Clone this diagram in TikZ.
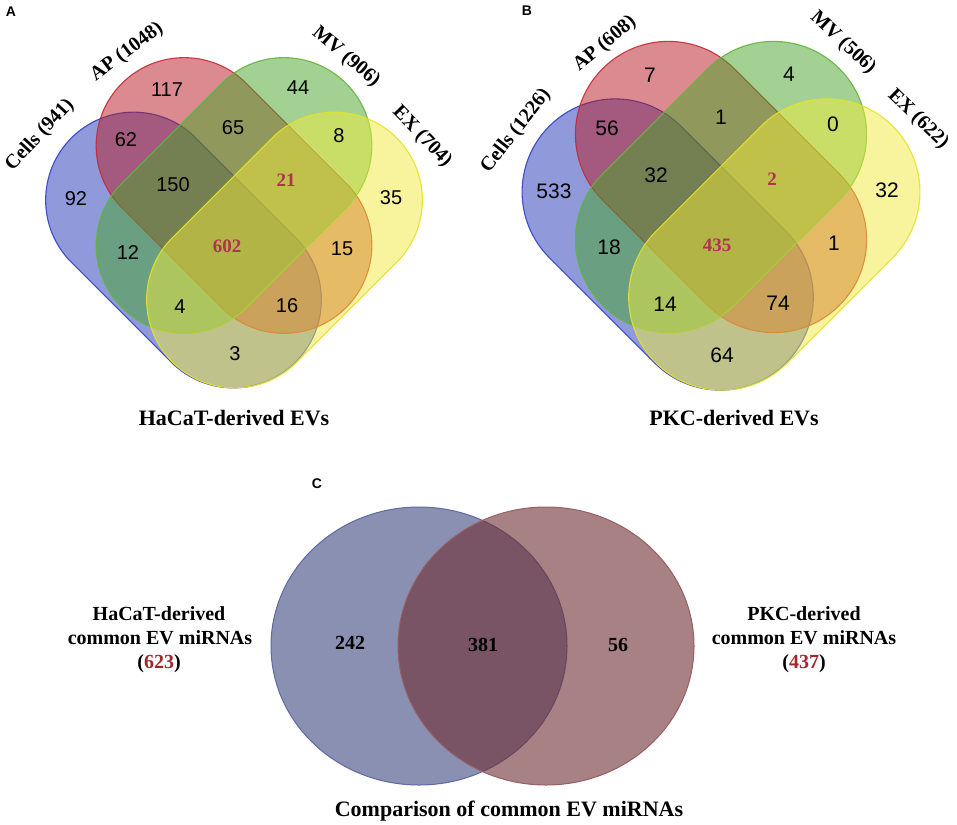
\documentclass[tikz,border=0pt]{standalone}
\usepackage{fontspec}
\setmainfont{Liberation Serif}
\newfontfamily\numfont{Liberation Sans}
\definecolor{vblue}{RGB}{35,55,185}
\definecolor{vred}{RGB}{185,25,35}
\definecolor{vgreen}{RGB}{70,165,40}
\definecolor{vyellow}{RGB}{240,235,60}
\definecolor{eblue}{RGB}{45,65,200}
\definecolor{ered}{RGB}{200,40,50}
\definecolor{egreen}{RGB}{100,180,60}
\definecolor{eyellow}{RGB}{228,226,40}
\definecolor{numred}{RGB}{178,50,82}
\definecolor{cblue}{RGB}{60,70,125}
\definecolor{cred}{RGB}{110,45,50}
\definecolor{ecblue}{RGB}{95,105,165}
\definecolor{ecred}{RGB}{150,95,100}
\definecolor{cnumred}{RGB}{160,40,45}
\newcommand\capsule[6]{%
  \begin{scope}[shift={(#2,#3)}, rotate=#4]
    \path[#1, rounded corners=#6pt] (-#5,-#6) rectangle (#5,#6);
  \end{scope}}
\begin{document}
\begin{tikzpicture}[x=1pt,y=-1pt,
  num/.style={font=\numfont\fontsize{20}{24}\selectfont, inner sep=0pt},
  numB/.style={font=\numfont\fontsize{21}{25}\selectfont, inner sep=0pt},
  rednum/.style={font=\bfseries\fontsize{19}{23}\selectfont, text=numred, inner sep=0pt},
  setlabel/.style={font=\bfseries\fontsize{20}{24}\selectfont, inner sep=0pt},
  paneltitle/.style={font=\bfseries\fontsize{22}{26}\selectfont, inner sep=0pt},
  panelletter/.style={font=\numfont\bfseries\fontsize{14}{16}\selectfont, inner sep=0pt},
  cnum/.style={font=\bfseries\fontsize{20}{24}\selectfont, inner sep=0pt},
  clabel/.style={font=\bfseries\fontsize{20}{24}\selectfont, inner sep=0pt, anchor=base},
  bluecap/.style={fill=vblue, fill opacity=0.5, draw=eblue, draw opacity=0.9, line width=1.1pt},
  redcap/.style={fill=vred, fill opacity=0.5, draw=ered, draw opacity=0.9, line width=1.1pt},
  greencap/.style={fill=vgreen, fill opacity=0.5, draw=egreen, draw opacity=0.9, line width=1.1pt},
  yellowcap/.style={fill=vyellow, fill opacity=0.5, draw=eyellow, draw opacity=0.9, line width=1.1pt},
  blueell/.style={fill=cblue, fill opacity=0.6, draw=ecblue, line width=1pt},
  redell/.style={fill=cred, fill opacity=0.6, draw=ecred, line width=1pt}]
\useasboundingbox (0,0) rectangle (957,824);
\fill[white] (0,0) rectangle (957,824);

% ---------- Panel A ----------
\capsule{bluecap}{183.5}{250}{-45}{158.5}{88}
\capsule{redcap}{234}{195.5}{-45}{158.5}{88}
\capsule{greencap}{234}{195.5}{45}{158.5}{88}
\capsule{yellowcap}{284.5}{250}{45}{158.5}{88}

\node[panelletter] (lA) at (11,12) {A};
\node[setlabel, rotate=47] (aCells) at (40,135) {Cells (941)};
\node[setlabel, rotate=37] (aAP) at (127,52) {AP (1048)};
\node[setlabel, rotate=-40] (aMV) at (346,57) {MV (906)};
\node[setlabel, rotate=-46] (aEX) at (422,137) {EX (704)};

\node[num] (a117) at (167,90) {117};
\node[num] (a44) at (298,88) {44};
\node[num] (a62) at (126,140) {62};
\node[num] (a65) at (233,128) {65};
\node[num] (a8) at (339,136) {8};
\node[num] (a92) at (76,199) {92};
\node[num] (a150) at (173,185) {150};
\node[rednum] (a21) at (286,180) {21};
\node[num] (a35) at (391,198) {35};
\node[num] (a12) at (128,253) {12};
\node[rednum] (a602) at (227,246) {602};
\node[num] (a15) at (342,249) {15};
\node[num] (a4) at (180,307) {4};
\node[num] (a16) at (287,306) {16};
\node[num] (a3) at (235,354) {3};
\node[paneltitle] (tA) at (234,418) {HaCaT-derived EVs};

% ---------- Panel B ----------
\capsule{bluecap}{667.7}{244.5}{-45}{167.4}{93}
\capsule{redcap}{721}{187}{-45}{167.4}{93}
\capsule{greencap}{721}{187}{45}{167.4}{93}
\capsule{yellowcap}{774.3}{244.5}{45}{167.4}{93}

\node[panelletter] (lB) at (527,11) {B};
\node[setlabel, rotate=52] (bCells) at (516,131) {Cells (1226)};
\node[setlabel, rotate=40] (bAP) at (605,44) {AP (608)};
\node[setlabel, rotate=-43] (bMV) at (843,43) {MV (506)};
\node[setlabel, rotate=-44] (bEX) at (918,119) {EX (622)};

\node[numB] (b7) at (650,75) {7};
\node[numB] (b4) at (789,74) {4};
\node[numB] (b56) at (607,128) {56};
\node[numB] (b1a) at (721,117) {1};
\node[numB] (b0) at (833,124) {0};
\node[numB] (b533) at (554,191) {533};
\node[numB] (b32a) at (656,175) {32};
\node[rednum] (b2) at (772,179) {2};
\node[numB] (b32b) at (887,190) {32};
\node[numB] (b18) at (609,247) {18};
\node[rednum] (b435) at (717,245) {435};
\node[numB] (b1b) at (834,243) {1};
\node[numB] (b14) at (665,304) {14};
\node[numB] (b74) at (778,303) {74};
\node[numB] (b64) at (722,355) {64};
\node[paneltitle] (tB) at (734,418) {PKC-derived EVs};

% ---------- Panel C ----------
\node[panelletter] (lC) at (317,484) {C};
\path[blueell] (419,646) ellipse [x radius=148pt, y radius=139pt];
\path[redell] (546,646) ellipse [x radius=148pt, y radius=139pt];
\node[cnum] (c242) at (350,643) {242};
\node[cnum] (c381) at (483,645) {381};
\node[cnum] (c56) at (618,645) {56};

\node[clabel] (cl1) at (159,620) {HaCaT-derived};
\node[clabel] (cl2) at (160,644) {common EV miRNAs};
\node[clabel] (cl3) at (159,668) {(\textcolor{cnumred}{623})};
\node[clabel] (cr1) at (804,620) {PKC-derived};
\node[clabel] (cr2) at (804,644) {common EV miRNAs};
\node[clabel] (cr3) at (804,668) {(\textcolor{cnumred}{437})};
\node[paneltitle, anchor=base] (tC) at (509,816) {Comparison of common EV miRNAs};
\end{tikzpicture}
\end{document}
